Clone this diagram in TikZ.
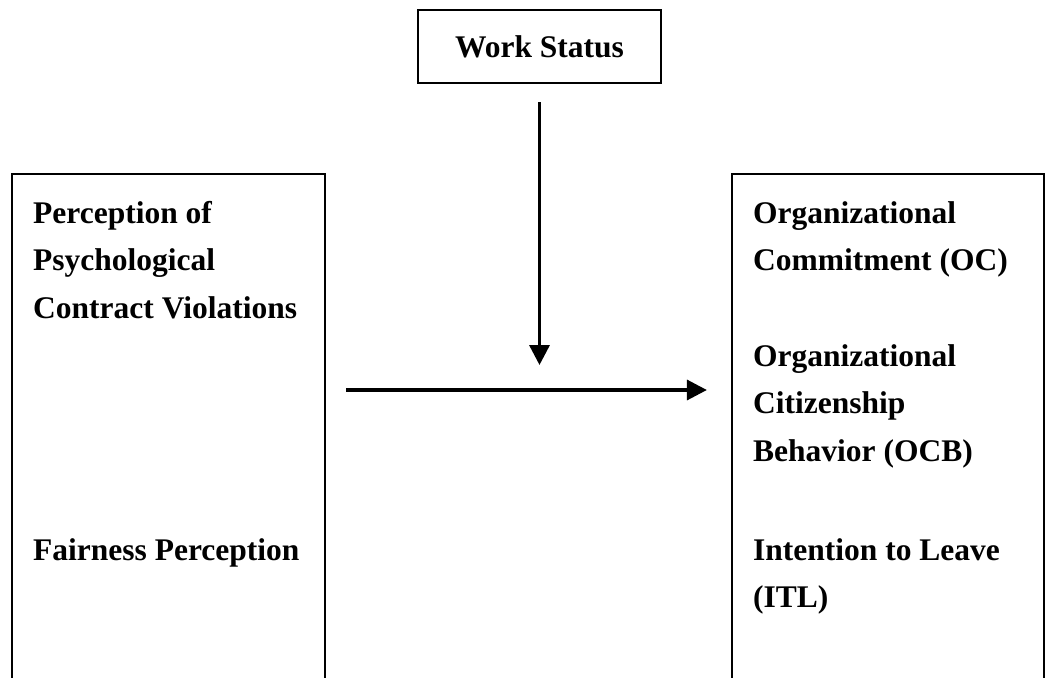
\documentclass[tikz,border=0pt]{standalone}
\usepackage{fontspec}
\setmainfont{Liberation Serif}
\usetikzlibrary{arrows.meta,positioning}

\begin{document}
\begin{tikzpicture}[x=1pt,y=-1pt,
  lbl/.style={font=\fontsize{31.5}{38}\selectfont\bfseries,anchor=base west,inner sep=0pt},
  frame/.style={draw,line width=2.2pt,inner sep=0pt},
  link/.style={line width=3.4pt,-{Triangle[length=20pt,width=20pt]}}]
  \useasboundingbox (0,0) rectangle (1046,677);
  \clip (0,0) rectangle (1046,677);

  % moderator on top
  \node[frame,minimum width=243pt,minimum height=73pt] (ws) at (539.5,46.5) {};
  \node[lbl,anchor=base] (wstxt) at (539.5,57) {Work Status};

  % the two columns run off the bottom edge
  \node[frame,minimum width=313pt,minimum height=540pt] (pcv) at (168.5,444) {};
  \node[frame,minimum width=312pt,minimum height=540pt] (out) at (888,444) {};

  \foreach \n/\y/\t in {pcv1/223/Perception of, pcv2/270.5/Psychological,
    pcv3/318/Contract Violations, fp/560/Fairness Perception} {
    \node[lbl] (\n) at (33,\y) {\t};
  }
  \foreach \n/\y/\t in {oc1/223/Organizational, oc2/270.5/Commitment (OC),
    ocb1/366/Organizational, ocb2/413.5/Citizenship, ocb3/461/Behavior (OCB),
    itl1/560/Intention to Leave, itl2/607.5/(ITL)} {
    \node[lbl] (\n) at (753,\y) {\t};
  }

  % arrows
  \coordinate (mod) at (539.5,365);
  \coordinate (mid) at (540,390);
  \draw[link,shorten <=18pt] (ws.south) -- (mod);
  \draw[link,shorten <=20pt,shorten >=24pt] (pcv.east |- mid) -- (out.west |- mid);
\end{tikzpicture}
\end{document}
